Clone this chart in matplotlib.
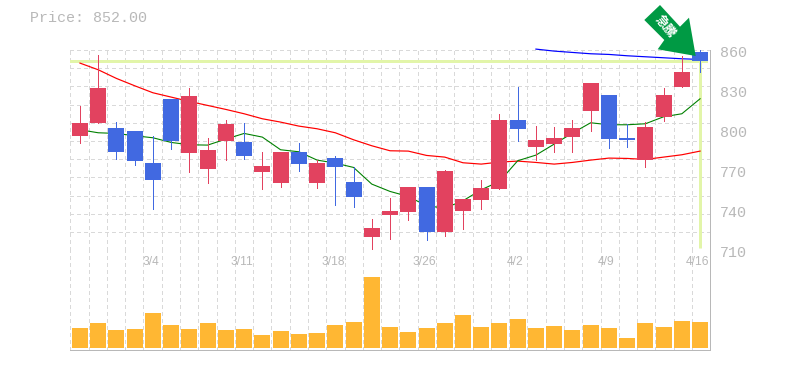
import numpy as np
import matplotlib
matplotlib.use("Agg")
import matplotlib.pyplot as plt
from matplotlib.patches import Polygon

W, H = 785, 370

# ── data ──────────────────────────────────────────────────
opens = [795.75, 805.5, 801.75, 799.5, 775.5, 823.5, 783, 771, 792, 791.25, 768.75, 760.5,
         783.75, 760.5, 779.25, 761.25, 720, 736.5, 738.75, 757.5, 723.75, 739.5, 747.75, 756,
         807.75, 787.5, 789.75, 795, 814.5, 826.5, 794.25, 777.75, 810, 832.5, 858.75]
closes = [805.5, 831.75, 783.75, 777, 762.75, 792, 825.75, 785.25, 804.75, 780.75, 773.25, 783.75,
          774.75, 775.5, 772.5, 750, 726.75, 739.5, 757.5, 723.75, 769.5, 748.5, 756.75, 807.75,
          801, 792.75, 794.25, 801.75, 835.5, 793.5, 792.75, 802.5, 826.5, 843.75, 852]
highs = [818.25, 856.5, 806.25, 799.5, 795.75, 823.5, 831.75, 794.25, 807.75, 805.5, 783.75, 783.75,
         790.5, 777.75, 780.75, 772, 733.5, 749.25, 757.5, 757.5, 770.25, 748.5, 762.75, 812.25,
         832.5, 803.25, 802.5, 807.75, 835.5, 826.5, 804.75, 806.25, 831.75, 855.25, 860.25]
lows = [790.5, 805.5, 778.5, 774, 741, 786, 768.75, 760.5, 777.75, 778.5, 756, 757.5,
        769.5, 756.75, 744, 742.5, 709.5, 718.5, 732.75, 717.75, 720.75, 726, 741, 756,
        792, 777.75, 783.75, 783.75, 799.5, 786.75, 787.5, 772.5, 807, 832.5, 843.75]
volumes = [60, 75, 54, 57, 105, 69, 57, 75, 54, 57, 39, 51, 42, 45, 69, 78, 213, 63,
           48, 60, 75, 99, 63, 75, 87, 60, 66, 54, 69, 60, 30, 75, 63, 81, 78]
ma_short = [800.25, 798, 797.5, 795.75, 794.25, 790.75, 789, 788.75, 793.25, 797.5, 794.75, 785.25,
            783.75, 777.5, 775.25, 772, 759.5, 754, 750.25, 743.25, 741.5, 747, 755.25, 761.5,
            777, 781.25, 789.5, 797.75, 805.5, 804, 804, 804.75, 810, 812.25, 823.5]
ma_mid = [850.25, 845.25, 838.75, 833.25, 828, 824.75, 821.5, 818.5, 815.5, 812.25, 808.5, 806,
          803, 801, 798, 792.75, 788.25, 784.5, 784.25, 781, 779.75, 775.5, 774.5, 776,
          776.75, 775.75, 774.5, 775.75, 777.5, 779, 778.75, 778, 779.75, 781.5, 784.25]
ma_long = [860.75, 859.25, 858.25, 857.25, 856.75, 855.75, 855, 854.25, 853.5, 853]
ma_long_start = 25
price_ticks = [710, 740, 770, 800, 830, 860]
date_pos = [4, 9, 14, 19, 24, 29, 34]
date_labels = ["3/4", "3/11", "3/18", "3/26", "4/2", "4/9", "4/16"]
last_price = 852.00

RED = "#e2425f"
BLUE = "#4169e1"
ORANGE = "#ffb733"
LIME = "#e2f5a9"
GREY = "#b8b8b8"
GRID = "#d9d9d9"

plt.rcParams["lines.scale_dashes"] = False
plt.rcParams["font.family"] = "Liberation Mono"
PX = 0.72  # points per pixel at dpi 100
dash = (0, (3 * PX, 3 * PX))


def panel(left, top, right, bottom):
    return fig.add_axes([left / W, 1 - bottom / H, (right - left) / W, (bottom - top) / H])


fig = plt.figure(figsize=(W / 100, H / 100), dpi=100, facecolor="white")
ax = panel(70.3, 50.1, 710.3, 250.1)
ax_vol = panel(70.3, 250.1, 710.3, 350.1)

n = len(closes)
x = np.arange(n)
x_lim = (-0.53, 34.56)
slots = np.linspace(x_lim[0], x_lim[1], n + 1)

# ── price panel ───────────────────────────────────────────
ax.set_xlim(x_lim)
ax.set_ylim(710, 860)
ax.set_xticks(slots)
ax.set_yticks(np.linspace(710, 860, 12))
ax.grid(True, color=GRID, linewidth=1 * PX, linestyle=dash, antialiased=False)
ax.set_axisbelow(True)
ax.tick_params(length=0, labelbottom=False, labelleft=False)

ax.axhline(last_price, xmax=0.9925, color=LIME, linewidth=3 * PX, zorder=1.5)
ax.vlines(x[-1], 711.5, last_price, color=LIME, linewidth=3 * PX, zorder=1.5)

ax.plot(x, ma_mid, color="#ff0000", linewidth=1.2 * PX, zorder=2)
ax.plot(x, ma_short, color="#008000", linewidth=1.1 * PX, zorder=2)
ax.plot(x[ma_long_start:], ma_long, color="#0000ff", linewidth=1.2 * PX, zorder=2, clip_on=False)

colors = [RED if c >= o else BLUE for o, c in zip(opens, closes)]
ax.vlines(x, lows, highs, color=colors, linewidth=1 * PX, zorder=3, clip_on=False, antialiased=False)
ax.bar(x, np.abs(np.subtract(closes, opens)), bottom=np.minimum(opens, closes),
       width=0.877, color=colors, linewidth=0, zorder=3, clip_on=False)

for v in price_ticks:
    ax.annotate(str(v), xy=(1, v), xycoords=ax.get_yaxis_transform(),
                xytext=(9.5 * PX, -3 * PX), textcoords="offset points",
                ha="left", va="center", color=GREY, fontsize=15 * PX)

# ── volume panel ──────────────────────────────────────────
ax_vol.set_xlim(x_lim)
ax_vol.set_ylim(-6, 294)
ax_vol.set_xticks(slots)
ax_vol.set_yticks([])
ax_vol.grid(True, axis="x", color=GRID, linewidth=1 * PX, linestyle=dash, antialiased=False)
ax_vol.set_axisbelow(True)
ax_vol.tick_params(length=0, labelbottom=False, labelleft=False)
ax_vol.bar(x, volumes, width=0.877, color=ORANGE, linewidth=0)

for p, s in zip(date_pos, date_labels):
    ax_vol.annotate(s, xy=(p, 0.88), xycoords=ax_vol.get_xaxis_transform(),
                    xytext=(-2.5 * PX, 0), textcoords="offset points", ha="center", va="center",
                    color=GREY, fontsize=12 * PX, family="Liberation Sans")

for a in (ax, ax_vol):
    a.spines["top"].set_visible(False)
    a.spines["left"].set_visible(False)
    for side in ("right", "bottom"):
        a.spines[side].set_color(GREY)
        a.spines[side].set_linewidth(1 * PX)
        a.spines[side].set_antialiased(False)

fig.text(30 / W, 1 - 18 / H, f"Price: {last_price:.2f}", color=GREY, fontsize=15 * PX,
         ha="left", va="center")

# ── arrow badge, in figure pixels ─────────────────────────
badge = [(660, 5), (644.3, 20), (664.3, 40), (657.7, 49.3), (695.7, 56), (689, 17.7), (680, 26.7)]
fig.add_artist(Polygon([(px / W, 1 - py / H) for px, py in badge], closed=True,
                       transform=fig.transFigure, facecolor="#009a44", edgecolor="none", zorder=5))
fig.text(665 / W, 1 - 26.5 / H, "急騰", color="white", fontsize=12.5 * PX, rotation=-50,
         rotation_mode="anchor", ha="center", va="center", family="Noto Sans CJK JP",
         fontweight="bold", zorder=6)

fig.savefig("out.png", dpi=100)
